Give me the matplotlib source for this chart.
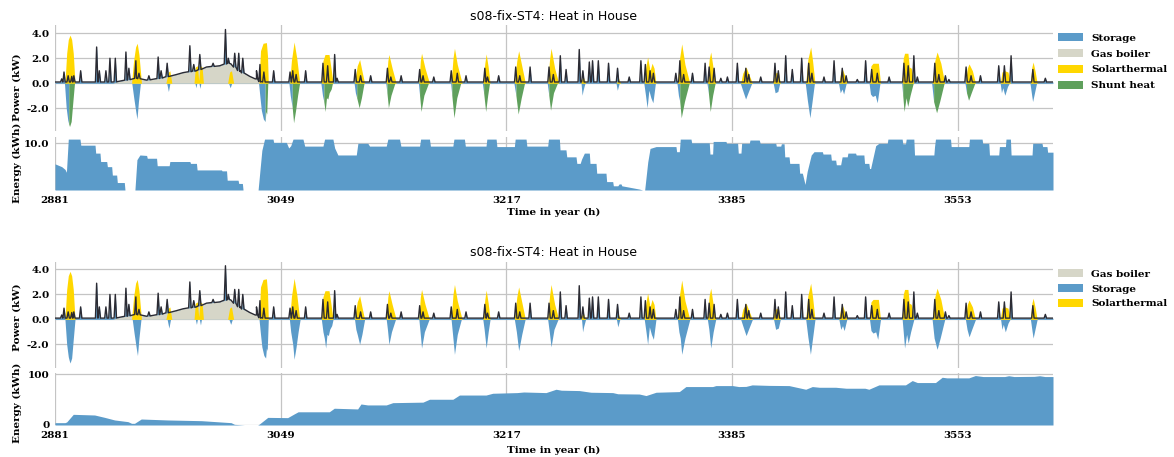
import numpy as np
import matplotlib
matplotlib.use("Agg")
import matplotlib.pyplot as plt
from matplotlib.patches import Patch

# ---------------- data (hours of year, kW / kWh) ----------------
x_ticks = [2881, 3049, 3217, 3385, 3553]
x_range = [2881, 3624]
title = "s08-fix-ST4: Heat in House"

# heat demand of the house: slowly varying base + short peaks
demand_base_t = [2881, 2924, 2927, 2941.7, 2949.2, 2959.1, 2971.5, 2976.4, 2986.3, 2993.8,
                 3003.7, 3009.6, 3012, 3018.5, 3026, 3031, 3034, 3624]
demand_base_v = [0.1, 0.1, 0.12, 0.4, 0.25, 0.4, 0.7, 0.85, 1.0, 1.3,
                 1.4, 1.6, 1.55, 0.95, 0.55, 0.35, 0.1, 0.1]
demand_peaks = [
    (2886.0, 0.35), (2887.7, 0.9), (2890.8, 0.6), (2893.5, 0.55), (2895.0, 0.6), (2900.1, 1.0),
    (2912.0, 2.9), (2914.0, 1.0), (2918.9, 1.0), (2921.9, 2.0), (2925.9, 2.0), (2933.8, 2.5),
    (2936.0, 1.2), (2941.2, 1.8), (2943.5, 0.8), (2950.9, 0.6), (2957.8, 2.1), (2960.0, 1.0),
    (2964.5, 1.6), (2981.4, 3.0), (2984.3, 1.5), (2988.8, 2.3), (2998.7, 1.6), (3007.9, 4.3),
    (3010.0, 2.0), (3014.8, 2.4), (3017.8, 2.4), (3020.8, 2.0), (3031.0, 1.0), (3033.6, 1.5),
    (3036.5, 0.9), (3043.8, 1.0), (3056.0, 0.9), (3058.0, 1.0), (3060.5, 0.7), (3067.6, 1.0),
    (3080.5, 1.6), (3084.0, 1.4), (3089.2, 2.3), (3091.0, 0.4), (3104.5, 1.1), (3108.5, 0.6),
    (3116.0, 0.6), (3128.5, 1.2), (3131.0, 0.5), (3138.7, 0.6), (3152.5, 1.1), (3155.0, 0.6),
    (3163.0, 0.5), (3176.0, 1.0), (3180.5, 0.8), (3187.0, 0.6), (3201.0, 1.2), (3203.0, 0.5),
    (3211.3, 0.6), (3224.0, 1.3), (3227.0, 0.6), (3234.7, 1.3), (3248.8, 1.3), (3252.0, 0.7),
    (3257.2, 2.2), (3261.5, 1.1), (3271.3, 2.7), (3274.0, 1.0), (3278.8, 1.7), (3281.2, 1.8),
    (3285.5, 1.8), (3293.1, 1.6), (3299.8, 1.2), (3308.5, 0.5), (3317.2, 1.8), (3320.5, 1.5),
    (3324.0, 1.0), (3326.5, 0.8), (3343.2, 0.8), (3346.2, 1.8), (3349.0, 0.7), (3355.6, 0.8),
    (3365.0, 1.6), (3368.0, 1.3), (3371.7, 1.2), (3376.7, 0.4), (3381.6, 0.5), (3389.0, 1.6),
    (3395.3, 1.2), (3397.5, 0.7), (3406.4, 0.5), (3417.0, 1.6), (3419.5, 1.0), (3425.0, 2.2),
    (3429.9, 1.1), (3436.9, 2.0), (3442.1, 1.6), (3444.5, 0.8), (3453.5, 0.5), (3461.0, 1.8),
    (3467.1, 1.2), (3470.0, 0.6), (3478.3, 0.3), (3484.5, 1.8), (3489.0, 1.1), (3493.2, 0.8),
    (3502.0, 0.5), (3513.0, 1.6), (3516.2, 1.4), (3520.4, 2.2), (3523.0, 0.5), (3536.0, 1.6),
    (3539.0, 0.7), (3543.9, 0.6), (3546.5, 0.3), (3559.3, 1.3), (3563.0, 0.6), (3570.0, 0.6),
    (3583.6, 1.4), (3587.8, 1.4), (3592.8, 2.2), (3609.0, 1.1), (3618.3, 0.4),
]

# gas boiler output
gas_t = [2924, 2927, 2941.7, 2949.2, 2959.1, 2971.5, 2976.4, 2986.3, 2993.8, 3003.7,
         3009.6, 3012, 3018.5, 3026, 3031, 3034]
gas_v = [0.0, 0.12, 0.4, 0.25, 0.4, 0.7, 0.85, 1.0, 1.3, 1.4,
         1.6, 1.55, 0.95, 0.55, 0.35, 0.0]

# solarthermal output
solar = [
    (2888.4, 0), (2889.7, 2.4), (2890.9, 3.5), (2892.2, 3.85), (2893.4, 3.5), (2894.6, 2.4), (2895.9, 0),
    (2938.0, 0), (2939.5, 1.8), (2941.0, 2.9), (2942.2, 3.2), (2943.5, 2.3), (2945.4, 0),
    (2963.5, 0), (2965.5, 0.9), (2966.5, 1.0), (2968.0, 0),
    (2984.5, 0), (2985.5, 1.3), (2987.0, 1.4), (2988.0, 0.2), (2989.0, 1.4), (2990.5, 1.3), (2991.5, 0),
    (3009.5, 0), (3011.0, 0.9), (3012.4, 1.0), (3014.0, 0),
    (3032.9, 0), (3034.0, 2.6), (3035.9, 3.2), (3038.4, 3.25), (3039.2, 2.2), (3039.8, 0),
    (3055.7, 0), (3057.0, 1.8), (3059.0, 3.3), (3061.0, 2.0), (3063.2, 0),
    (3079.3, 0), (3080.5, 1.8), (3082.0, 2.3), (3085.0, 2.3), (3086.5, 1.2), (3088.0, 0),
    (3104.0, 0), (3106.0, 1.4), (3107.8, 1.9), (3109.5, 1.0), (3111.5, 0),
    (3127.6, 0), (3128.8, 1.8), (3129.6, 2.3), (3132.0, 1.2), (3135.0, 0),
    (3151.9, 0), (3153.0, 1.8), (3153.9, 2.4), (3156.5, 1.2), (3159.8, 0),
    (3175.9, 0), (3177.3, 2.0), (3178.4, 2.8), (3180.5, 1.5), (3184.1, 0),
    (3199.5, 0), (3201.0, 1.6), (3202.0, 2.35), (3203.5, 1.3), (3204.9, 0),
    (3223.0, 0), (3224.8, 1.8), (3226.2, 2.6), (3228.5, 1.4), (3231.2, 0),
    (3247.8, 0), (3249.2, 1.9), (3250.3, 2.8), (3253.0, 1.2), (3256.0, 0),
    (3272.5, 0), (3274.0, 0.6), (3276.0, 0),
    (3299.0, 0), (3300.5, 0.4), (3302.0, 0),
    (3319.7, 0), (3321.0, 1.4), (3322.2, 2.1), (3324.0, 1.0), (3325.5, 1.6), (3327.0, 1.2), (3328.4, 0),
    (3344.4, 0), (3346.0, 2.0), (3347.6, 3.15), (3350.0, 1.5), (3353.6, 0),
    (3366.7, 0), (3368.0, 1.9), (3369.2, 2.5), (3371.0, 1.2), (3372.9, 0),
    (3391.5, 0), (3393.0, 0.8), (3395.5, 1.3), (3398.0, 0.6), (3400.2, 0),
    (3415.5, 0), (3417.0, 0.8), (3419.5, 0.9), (3421.0, 0),
    (3439.9, 0), (3441.5, 1.9), (3443.6, 2.9), (3445.0, 1.8), (3446.8, 0),
    (3464.6, 0), (3466.0, 0.9), (3467.3, 1.1), (3469.0, 0.6), (3470.5, 0),
    (3487.4, 0), (3488.5, 1.4), (3490.0, 1.6), (3494.0, 1.6), (3495.6, 0),
    (3511.7, 0), (3512.5, 2.0), (3513.5, 2.4), (3516.0, 2.4), (3517.0, 1.3), (3518.5, 1.2), (3520.4, 0),
    (3534.0, 0), (3536.0, 1.8), (3537.7, 2.5), (3540.5, 1.6), (3543.4, 0),
    (3558.8, 0), (3560.2, 1.2), (3561.5, 1.55), (3564.0, 1.0), (3566.3, 0),
    (3584.8, 0), (3586.0, 0.9), (3588.0, 1.0), (3590.5, 0.9), (3592.2, 0),
    (3607.2, 0), (3608.3, 1.3), (3609.2, 1.7), (3610.8, 0.9), (3612.2, 0),
]

# surplus heat taken away from the house (storage charging + shunt), negative
surplus = [
    (2888.4, 0), (2889.7, -2.0), (2890.9, -3.0), (2891.6, -3.3), (2892.2, -3.5), (2893.4, -3.1), (2894.6, -1.6), (2895.9, 0),
    (2938.5, 0), (2940.0, -1.2), (2941.5, -2.3), (2942.4, -2.9), (2943.5, -1.5), (2945.0, 0),
    (2964.5, 0), (2965.8, -0.7), (2967.0, 0),
    (2985.5, 0), (2986.3, -0.4), (2987.0, 0), (2988.5, 0), (2989.3, -0.45), (2990.0, 0),
    (3010.5, 0), (3011.8, -0.4), (3013.0, 0),
    (3032.9, 0), (3034.0, -1.2), (3035.0, -2.2), (3036.5, -2.9), (3037.8, -3.1), (3038.4, -2.3), (3039.0, -2.5), (3039.8, 0),
    (3055.5, 0), (3056.5, -1.0), (3058.0, -2.0), (3059.0, -3.2), (3060.5, -2.2), (3062.0, -1.0), (3063.5, 0),
    (3079.3, 0), (3080.5, -1.0), (3081.5, -1.5), (3082.5, -2.3), (3083.5, -1.2), (3084.5, -1.3), (3085.5, -0.8), (3087.0, -0.5), (3088.0, 0),
    (3104.0, 0), (3105.0, -0.8), (3106.0, -1.2), (3107.8, -2.0), (3109.5, -1.2), (3111.5, 0),
    (3127.6, 0), (3128.5, -0.8), (3129.6, -2.0), (3131.5, -1.0), (3134.5, 0),
    (3151.9, 0), (3152.8, -1.0), (3153.9, -2.3), (3156.0, -1.0), (3159.5, 0),
    (3175.9, 0), (3176.8, -1.0), (3178.4, -2.8), (3180.5, -1.2), (3183.5, 0),
    (3199.5, 0), (3200.5, -0.8), (3202.0, -2.3), (3203.5, -1.0), (3204.9, 0),
    (3223.0, 0), (3224.5, -1.0), (3226.2, -2.5), (3228.5, -1.2), (3231.0, 0),
    (3247.8, 0), (3249.0, -1.0), (3250.3, -2.2), (3252.5, -0.8), (3255.5, 0),
    (3273.0, 0), (3273.8, -1.0), (3274.5, -0.6), (3276.0, 0),
    (3299.0, 0), (3300.0, -0.6), (3301.5, 0),
    (3319.7, 0), (3321.0, -1.0), (3322.2, -2.0), (3323.5, -0.6), (3325.0, -1.2), (3326.5, -1.6), (3328.4, 0),
    (3344.4, 0), (3345.5, -1.0), (3346.5, -1.5), (3347.6, -2.8), (3350.0, -1.5), (3353.6, 0),
    (3366.7, 0), (3367.8, -0.8), (3369.2, -2.3), (3371.0, -1.0), (3372.9, 0),
    (3391.5, 0), (3393.0, -0.5), (3395.5, -1.3), (3398.0, -0.6), (3400.2, 0),
    (3416.0, 0), (3417.5, -0.8), (3419.5, -0.7), (3421.0, 0),
    (3439.9, 0), (3441.5, -1.4), (3443.4, -2.8), (3445.0, -1.5), (3446.8, 0),
    (3464.6, 0), (3466.0, -0.8), (3467.3, -0.5), (3468.5, -0.9), (3470.5, 0),
    (3487.4, 0), (3488.5, -0.9), (3490.0, -1.1), (3492.0, -1.0), (3493.5, -1.6), (3495.6, 0),
    (3511.7, 0), (3512.5, -1.0), (3513.5, -2.3), (3515.0, -1.2), (3516.2, -1.9), (3518.0, -1.0), (3520.4, 0),
    (3534.0, 0), (3535.5, -1.5), (3537.7, -2.4), (3540.0, -1.5), (3543.4, 0),
    (3558.8, 0), (3560.0, -0.8), (3561.5, -1.4), (3563.5, -0.8), (3566.3, 0),
    (3585.0, 0), (3586.0, -0.8), (3587.0, -0.4), (3588.5, -1.0), (3590.5, -0.3), (3592.0, 0),
    (3607.2, 0), (3608.5, -1.0), (3609.2, -1.5), (3611.0, -0.6), (3612.2, 0),
]
# periods in which the surplus goes to the shunt (top chart only)
shunt_periods = [(2891.6, 2895.9), (3037.8, 3039.8), (3058.0, 3063.5), (3081.5, 3088.0),
                 (3106.0, 3111.5), (3128.5, 3134.5), (3152.8, 3159.5), (3176.8, 3183.5),
                 (3200.5, 3204.9), (3224.5, 3231.0), (3249.0, 3255.5), (3346.5, 3353.6),
                 (3367.8, 3372.9), (3512.5, 3520.4), (3535.5, 3543.4), (3560.0, 3566.3)]

# stored energy, top chart (kWh)
energy1 = [
    (2881, 5.6), (2886, 5.0), (2888.5, 4.4), (2889.5, 3.8), (2890.9, 10.9), (2899.6, 10.9), (2900.2, 9.6),
    (2910.8, 9.6), (2911.3, 7.9), (2914.5, 7.9), (2915, 6.1), (2919.5, 6.1), (2920, 5.0), (2923.2, 5.0),
    (2923.7, 3.2), (2926.9, 3.2), (2927.4, 1.6), (2932.6, 1.6), (2933.1, 0), (2940.5, 0), (2942, 6.5),
    (2944.2, 7.5), (2949.2, 7.4), (2949.7, 6.8), (2956.6, 6.8), (2957.1, 5.2), (2966, 5.2), (2966.5, 6.1),
    (2981.4, 6.1), (2981.9, 5.7), (2986.3, 5.7), (2986.8, 4.3), (3004.9, 4.3), (3005.4, 4.1), (3008.7, 4.1),
    (3009.2, 2.1), (3017.3, 2.1), (3017.8, 1.4), (3020.5, 1.4), (3021, 0), (3032.2, 0), (3035, 8.5),
    (3037, 10.9), (3043.3, 10.9), (3043.8, 10.2), (3053.2, 10.2), (3055, 9.0), (3056.5, 9.5), (3058.2, 10.9),
    (3065.6, 10.9), (3066.9, 9.4), (3080.5, 9.4), (3081.7, 10.9), (3087.9, 10.9), (3089.2, 9.0), (3091.6, 7.5),
    (3105.3, 7.5), (3106.5, 10.0), (3113.9, 10.0), (3115.2, 9.4), (3127.6, 9.4), (3128.8, 10.9), (3137.5, 10.9),
    (3138.5, 9.4), (3152.4, 9.4), (3153.2, 10.9), (3159.8, 10.9), (3160.5, 9.4), (3177.2, 9.4), (3178, 10.9),
    (3185.8, 10.9), (3186.5, 9.4), (3201.9, 9.4), (3202.5, 10.9), (3209.4, 10.9), (3210, 9.3), (3223, 9.3),
    (3223.6, 10.9), (3231.7, 10.9), (3232.3, 9.4), (3247.8, 9.4), (3248.4, 10.9), (3256.5, 10.9), (3257, 8.6),
    (3261.4, 8.6), (3262, 7.1), (3268.9, 7.1), (3269.5, 5.7), (3272, 5.7), (3273, 6.6), (3275.1, 7.9),
    (3278.8, 7.9), (3279.3, 5.7), (3283.8, 5.7), (3284.3, 3.6), (3291.2, 3.6), (3291.7, 1.8), (3296.2, 1.8),
    (3296.7, 0.9), (3300, 0.9), (3301, 1.3), (3302.4, 1.3), (3303, 0.9), (3308.6, 0.6), (3316, 0.2),
    (3318.5, 0), (3320, 0), (3322.3, 6.0), (3324, 8.9), (3328.5, 9.3), (3343.3, 9.3), (3343.8, 8.2),
    (3345.8, 8.2), (3346.5, 10.9), (3354.5, 10.9), (3355, 10.1), (3368.1, 10.1), (3368.6, 7.7), (3370.6, 7.7),
    (3371, 10.4), (3380.5, 10.4), (3381, 10.0), (3389.2, 10.0), (3389.7, 7.9), (3391.7, 7.9), (3392.2, 10.0),
    (3397.9, 10.0), (3398.4, 10.7), (3405.3, 10.7), (3406, 10.0), (3417.6, 10.0), (3418, 9.4), (3421.3, 9.4),
    (3421.8, 9.9), (3423.8, 9.9), (3424.3, 7.1), (3427.5, 7.1), (3428, 5.7), (3434.9, 5.7), (3435.4, 3.6),
    (3437.4, 3.6), (3439.4, 1.2), (3441, 4.0), (3444, 7.5), (3446.1, 8.2), (3452.3, 8.2), (3452.8, 7.7),
    (3458.5, 7.7), (3459, 6.4), (3462.2, 6.4), (3462.7, 5.4), (3465.9, 5.4), (3467, 7.1), (3470.8, 7.1),
    (3471.3, 7.9), (3477, 7.9), (3477.5, 7.5), (3483.2, 7.5), (3483.7, 5.7), (3486.9, 5.7), (3487.4, 4.6),
    (3488.2, 4.6), (3492, 9.5), (3494.4, 10.0), (3500.6, 10.0), (3501.1, 10.9), (3511.7, 10.9), (3512.2, 9.9),
    (3514.2, 9.9), (3514.7, 10.9), (3520.4, 10.9), (3520.9, 7.5), (3535.3, 7.5), (3535.8, 9.3), (3536.5, 10.9),
    (3547.7, 10.9), (3548.2, 9.3), (3561.3, 9.3), (3561.8, 10.9), (3571.2, 10.9), (3571.7, 10.0), (3576.2, 10.0),
    (3576.7, 7.5), (3583.6, 7.5), (3584.1, 9.3), (3588.6, 9.3), (3589, 10.9), (3592.3, 10.9), (3592.8, 7.5),
    (3608.4, 7.5), (3608.9, 10.0), (3615.8, 10.0), (3616.3, 9.3), (3619.5, 9.3), (3620, 8.1), (3624, 8.1),
]

# stored energy, bottom chart (kWh)
energy2 = [
    (2881, 4.6), (2888.4, 4.6), (2889.7, 6), (2894.6, 21), (2910.5, 19.7), (2918, 15), (2925.4, 9.9),
    (2935.3, 6.6), (2938, 3.3), (2940.2, 3.3), (2945.2, 11.8), (2965, 9.9), (2990, 8.5), (3012.1, 4.6),
    (3014.6, 1.3), (3022, 0), (3031.9, 0), (3033.2, 2), (3039.4, 15), (3054.2, 14.5), (3059.2, 22),
    (3062, 26), (3085.2, 26), (3088.9, 33), (3106.3, 31.6), (3108.8, 41.4), (3113.7, 39.5), (3127.6, 39.5),
    (3132.5, 44), (3154.9, 45), (3159.8, 50.7), (3177.2, 50.7), (3182.1, 59), (3201.9, 59), (3206.9, 62.5),
    (3225, 63.8), (3230, 65), (3246.5, 63.8), (3254, 70.4), (3258, 68.5), (3271.3, 67.8), (3280, 64.5),
    (3296.2, 63.8), (3300, 61.5), (3316, 61), (3321, 58), (3328.5, 64.5), (3345.8, 65.8), (3350.7, 75.7),
    (3370.6, 75.7), (3373, 77.6), (3385.5, 77.6), (3390, 75.7), (3395.4, 76), (3400, 79), (3412.6, 78),
    (3427.5, 77.6), (3439.9, 70.4), (3444.8, 75.7), (3450, 74.3), (3462.2, 74.3), (3470, 72.4),
    (3484, 72.4), (3486.9, 70.4), (3494.4, 79), (3514.2, 79), (3519.2, 87.5), (3523, 83.6), (3536.5, 83.6),
    (3541.5, 94), (3545, 92.8), (3561.3, 92.8), (3566.2, 97.4), (3572, 95.4), (3588, 95.4), (3591, 97),
    (3595, 95.4), (3610, 95.8), (3614, 97), (3618, 95.4), (3624, 95.4),
]

# ---------------- style ----------------
C_STORAGE = "#5b9bc9"
C_GAS = "#d6d6c8"
C_SOLAR = "#ffd700"
C_SHUNT = "#5fa05c"
C_LINE = "#2b2b33"
C_GRID = "#c4c4c4"
SERIF_B = dict(family="DejaVu Serif", weight="bold")
FS = 7.5

W, H = 1174, 457
fig = plt.figure(figsize=(W / 100, H / 100), dpi=100)


def box(top, bottom):
    return [55 / W, 1 - bottom / H, 998 / W, (bottom - top) / H]


# demand curve from base + peaks
bt = np.array(demand_base_t)
bv = np.array(demand_base_v)
pts = list(zip(demand_base_t, demand_base_v))
for t, v in demand_peaks:
    b = float(np.interp(t, bt, bv))
    pts += [(t - 0.9, b), (t, v), (t + 0.9, b)]
pts.sort()
dem_t = np.array([p[0] for p in pts])
dem_v = np.array([p[1] for p in pts])

sol_t = np.array([p[0] for p in solar])
sol_v = np.array([p[1] for p in solar])
sur_t = np.array([p[0] for p in surplus])
sur_v = np.array([p[1] for p in surplus])

in_shunt = np.zeros(len(sur_t), bool)
strict = np.zeros(len(sur_t), bool)
for a, b in shunt_periods:
    in_shunt |= (sur_t >= a) & (sur_t <= b)
    strict |= (sur_t > a) & (sur_t < b)


def style_axes(ax, ylim, yticks, ylabels, show_x):
    ax.set_xlim(*x_range)
    ax.set_ylim(*ylim)
    ax.set_yticks(yticks)
    ax.set_yticklabels(ylabels)
    ax.set_xticks(x_ticks)
    if show_x:
        ax.set_xticklabels([str(t) for t in x_ticks])
    else:
        ax.set_xticklabels([])
    for s in ax.spines.values():
        s.set_visible(False)
    ax.tick_params(length=0, labelsize=FS, pad=4)
    for lab in ax.get_xticklabels() + ax.get_yticklabels():
        lab.set_fontfamily("DejaVu Serif")
        lab.set_fontweight("bold")
    ax.grid(True, color=C_GRID, lw=0.9)
    ax.set_axisbelow(True)
    ax.patch.set_alpha(0)


def power_panel(ax, with_shunt):
    ax.fill_between(dem_t, 0, dem_v, color=C_STORAGE, lw=0, zorder=2)
    ax.fill_between(gas_t, 0, gas_v, color=C_GAS, lw=0, zorder=3)
    ax.fill_between(sol_t, 0, sol_v, color=C_SOLAR, lw=0, zorder=4)
    if with_shunt:
        ax.fill_between(sur_t, 0, sur_v, where=~strict, color=C_STORAGE, lw=0, zorder=2)
        ax.fill_between(sur_t, 0, sur_v, where=in_shunt, color=C_SHUNT, lw=0, zorder=2)
    else:
        ax.fill_between(sur_t, 0, sur_v, color=C_STORAGE, lw=0, zorder=2)
    ax.plot(dem_t, dem_v, color=C_LINE, lw=1.0, zorder=5)


# ---- top figure ----
ax1 = fig.add_axes(box(25, 131))
power_panel(ax1, True)
style_axes(ax1, (-3.82, 4.66), [-2, 0, 2, 4], ["-2.0", "0.0", "2.0", "4.0"], False)

ax2 = fig.add_axes(box(137, 190))
e1t = [p[0] for p in energy1]
e1v = [p[1] for p in energy1]
ax2.fill_between(e1t, 0, e1v, color=C_STORAGE, lw=0, zorder=2)
style_axes(ax2, (0, 11.35), [10], ["10.0"], True)

# ---- bottom figure ----
ax3 = fig.add_axes(box(262, 368))
power_panel(ax3, False)
style_axes(ax3, (-3.9, 4.6), [-2, 0, 2, 4], ["-2.0", "0.0", "2.0", "4.0"], False)

ax4 = fig.add_axes(box(372.7, 425))
e2t = [p[0] for p in energy2]
e2v = [p[1] for p in energy2]
ax4.fill_between(e2t, 0, e2v, color=C_STORAGE, lw=0, zorder=2)
style_axes(ax4, (0, 103), [0, 100], ["0", "100"], True)

# ---- texts ----
for ty, ly, py, ey in [(16, 212, 87, 163), (252.7, 450, 316.7, 403)]:
    fig.text(554 / W, 1 - ty / H, title, ha="center", va="center", fontsize=9, family="DejaVu Sans")
    fig.text(554 / W, 1 - ly / H, "Time in year (h)", ha="center", va="center", fontsize=FS, **SERIF_B)
    fig.text(17 / W, 1 - py / H, "Power (kW)", ha="center", va="center", rotation=90, fontsize=FS, **SERIF_B)
    fig.text(17 / W, 1 - ey / H, "Energy (kWh)", ha="center", va="center", rotation=90, fontsize=FS, **SERIF_B)

leg_prop = dict(family="DejaVu Serif", weight="bold", size=FS)
h1 = [Patch(facecolor=C_STORAGE, label="Storage"), Patch(facecolor=C_GAS, label="Gas boiler"),
      Patch(facecolor=C_SOLAR, label="Solarthermal"), Patch(facecolor=C_SHUNT, label="Shunt heat")]
h2 = [Patch(facecolor=C_GAS, label="Gas boiler"), Patch(facecolor=C_STORAGE, label="Storage"),
      Patch(facecolor=C_SOLAR, label="Solarthermal")]
fig.legend(handles=h1, loc="upper left", bbox_to_anchor=(1056 / W, 1 - 31 / H), frameon=False,
           prop=leg_prop, handlelength=2.4, handleheight=0.8, labelspacing=0.6, borderaxespad=0,
           borderpad=0.2, handletextpad=0.8)
fig.legend(handles=h2, loc="upper left", bbox_to_anchor=(1056 / W, 1 - 267 / H), frameon=False,
           prop=leg_prop, handlelength=2.4, handleheight=0.8, labelspacing=0.5, borderaxespad=0,
           borderpad=0.2, handletextpad=0.8)

fig.savefig("out.png", dpi=100)
